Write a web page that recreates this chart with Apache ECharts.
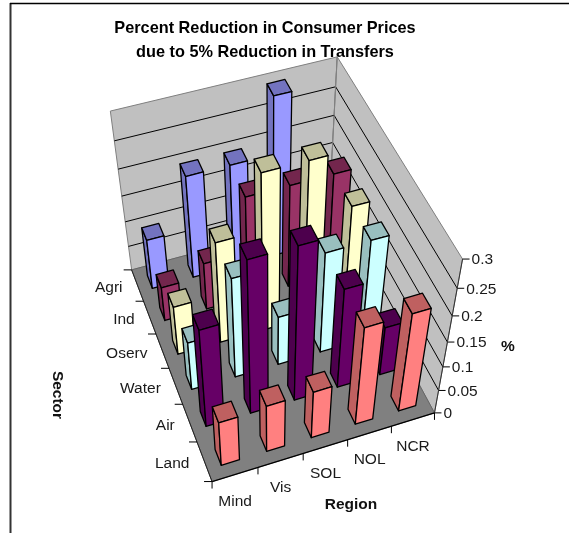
<!DOCTYPE html>
<html>
<head>
<meta charset="utf-8">
<style>html,body{margin:0;padding:0;background:#fff}#c{width:569px;height:533px}</style>
<script src="https://cdn.jsdelivr.net/npm/echarts@6/dist/echarts.min.js"></script>
</head>
<body>
<div id="c"></div>
<script>
// Percent reduction in consumer prices, by region and sector
const regions = ['Mind', 'Vis', 'SOL', 'NOL', 'NCR'];
const sectors = ['Agri', 'Ind', 'Oserv', 'Water', 'Air', 'Land'];
const zTicks = [0, 0.05, 0.1, 0.15, 0.2, 0.25, 0.3];

const agri  = [0.1, 0.2, 0.2, 0.3, 0.1];
const ind   = [0.07, 0.095, 0.2, 0.2, 0.2];
const oserv = [0.1, 0.2, 0.3, 0.3, 0.2];
const water = [0.1, 0.2, 0.1, 0.2, 0.2];
const air   = [0.2, 0.3, 0.3, 0.2, 0.1];
const land  = [0.095, 0.1, 0.1, 0.2, 0.2];
const sectorValues = [agri, ind, oserv, water, air, land];

const frontColors = ['#9999FF', '#993366', '#FFFFCC', '#CCFFFF', '#660066', '#FF8080'];
const shadeColors = ['#7373BF', '#73264D', '#BFBF99', '#99BFBF', '#4D004D', '#BF6060'];

// Screen anchors of the plot box, keyed by unit-cube corner (region, sector depth, height)
const boxAnchors = [
  [0, 0, 0, 212, 481.5], [1, 0, 0, 435, 413], [0, 1, 0, 132, 270], [1, 1, 0, 328, 217],
  [0, 1, 1, 110, 111], [1, 1, 1, 338, 57], [1, 0, 1, 462, 259]
];

// Fit an 11-parameter perspective camera to the anchors by least squares
function fitCamera(anchors) {
  const n = 11, A = [], b = [];
  anchors.forEach(([x, y, z, sx, sy]) => {
    A.push([x, y, z, 1, 0, 0, 0, 0, -sx * x, -sx * y, -sx * z]); b.push(sx);
    A.push([0, 0, 0, 0, x, y, z, 1, -sy * x, -sy * y, -sy * z]); b.push(sy);
  });
  const M = [];
  for (let i = 0; i < n; i++) {
    M.push(new Array(n + 1).fill(0));
    for (let j = 0; j < n; j++) A.forEach(r => { M[i][j] += r[i] * r[j]; });
    A.forEach((r, k) => { M[i][n] += r[i] * b[k]; });
  }
  for (let i = 0; i < n; i++) {
    let p = i;
    for (let r = i + 1; r < n; r++) if (Math.abs(M[r][i]) > Math.abs(M[p][i])) p = r;
    [M[i], M[p]] = [M[p], M[i]];
    for (let r = 0; r < n; r++) {
      if (r === i) continue;
      const f = M[r][i] / M[i][i];
      for (let c = i; c <= n; c++) M[r][c] -= f * M[i][c];
    }
  }
  return M.map((row, i) => row[n] / row[i]);
}
const cam = fitCamera(boxAnchors);
function project(x, y, z) {
  const d = cam[8] * x + cam[9] * y + cam[10] * z + 1;
  return [(cam[0] * x + cam[1] * y + cam[2] * z + cam[3]) / d,
          (cam[4] * x + cam[5] * y + cam[6] * z + cam[7]) / d];
}

const BAR_FILL = 0.4;   // share of a cell taken by a bar footprint

function sectorDepth(s) { return 1 - (s + 0.5) / sectors.length; }

function poly(points, fill, stroke, lineWidth) {
  return { type: 'polygon', shape: { points }, style: { fill, stroke: stroke || '#000', lineWidth: lineWidth === undefined ? 1.3 : lineWidth, lineJoin: 'round' } };
}
function seg(a, b, stroke, lineWidth) {
  return { type: 'line', shape: { x1: a[0], y1: a[1], x2: b[0], y2: b[1] }, style: { stroke, lineWidth: lineWidth || 1, fill: null } };
}
function label(text, x, y, align, font) {
  return { type: 'text', style: { text, x, y, align, verticalAlign: 'middle', fill: '#1a1a1a', font: font || '15.5px "Liberation Sans", Arial, sans-serif' } };
}

// One prism: height and horizontal position come from the hidden cartesian axes
function renderBar(s) {
  return function (params, api) {
    const cs = params.coordSys;
    const pt = api.coord([api.value(0), api.value(1)]);
    const u = (pt[0] - cs.x) / cs.width;
    const w = 1 - (pt[1] - cs.y) / cs.height;
    const du = api.size([1, 0])[0] / cs.width * BAR_FILL / 2;
    const v = sectorDepth(s), dv = BAR_FILL / sectors.length / 2;
    const c = (a, b, h) => project(u + a * du, v + b * dv, h);
    return {
      type: 'group',
      children: [
        poly([c(-1, -1, 0), c(-1, 1, 0), c(-1, 1, w), c(-1, -1, w)], shadeColors[s]),
        poly([c(-1, -1, w), c(-1, 1, w), c(1, 1, w), c(1, -1, w)], shadeColors[s]),
        poly([c(-1, -1, 0), c(1, -1, 0), c(1, -1, w), c(-1, -1, w)], frontColors[s])
      ]
    };
  };
}

// Walls, floor, gridlines, ticks and tick labels of the 3D box
function renderBox() {
  const kids = [];
  const edge = '#808080';
  kids.push(poly([project(0, 1, 0), project(1, 1, 0), project(1, 1, 1), project(0, 1, 1)], '#C0C0C0', edge, 1));
  kids.push(poly([project(1, 1, 0), project(1, 0, 0), project(1, 0, 1), project(1, 1, 1)], '#C0C0C0', edge, 1));
  kids.push(poly([project(0, 0, 0), project(1, 0, 0), project(1, 1, 0), project(0, 1, 0)], '#808080', '#666', 1));
  const zMax = zTicks[zTicks.length - 1];
  zTicks.forEach(t => {
    const h = t / zMax;
    if (t > 0 && t < zMax) {
      kids.push(seg(project(0, 1, h), project(1, 1, h), '#000'));
      kids.push(seg(project(1, 1, h), project(1, 0, h), '#000'));
    }
    const p = project(1, 0, h);
    kids.push(seg(p, [p[0] + 7, p[1]], '#000'));
    kids.push(label(String(t), p[0] + 9, p[1] + 1, 'left'));
  });
  kids.push(seg(project(1, 1, 1), project(1, 1, 0), edge));
  kids.push(seg(project(1, 0, 0), project(1, 0, 1), '#333'));
  kids.push(seg(project(0, 0, 0), project(1, 0, 0), '#000', 1.2));
  kids.push(seg(project(0, 0, 0), project(0, 1, 0), '#222', 1));
  for (let i = 0; i <= regions.length; i++) {
    const p = project(i / regions.length, 0, 0);
    kids.push(seg(p, [p[0], p[1] + 7], '#000'));
    if (i < regions.length) {
      const c = project((i + 0.5) / regions.length, 0, 0);
      kids.push(label(regions[i], c[0], c[1] + 27, 'center'));
    }
  }
  for (let i = 0; i <= sectors.length; i++) {
    const p = project(0, i / sectors.length, 0);
    kids.push(seg(p, [p[0] - 8, p[1]], '#000'));
  }
  sectors.forEach((name, s) => {
    const c = project(0, sectorDepth(s), 0);
    kids.push(label(name, c[0] - 15, c[1] + 2.5, 'right'));
  });
  return { type: 'group', children: kids };
}

const bold = 'bold 15.5px "Liberation Sans", Arial, sans-serif';

const chart = echarts.init(document.getElementById('c'), null, { renderer: 'canvas' });
chart.setOption({
  animation: false,
  backgroundColor: '#fff',
  title: {
    text: 'Percent Reduction in Consumer Prices\ndue to 5% Reduction in Transfers',
    left: 260, top: 12, textAlign: 'center',
    textStyle: { fontFamily: '"Liberation Sans", Arial, sans-serif', fontWeight: 'bold', fontSize: 16.3, lineHeight: 24, color: '#000' }
  },
  grid: { left: 0, right: 0, top: 0, bottom: 0 },
  xAxis: { type: 'category', data: regions, show: false },
  yAxis: { type: 'value', min: 0, max: 0.3, interval: 0.05, show: false },
  graphic: [
    { type: 'line', shape: { x1: 10.5, y1: 3, x2: 10.5, y2: 533 }, style: { stroke: '#333', lineWidth: 2 } },
    { type: 'line', shape: { x1: 10, y1: 3.5, x2: 569, y2: 3.5 }, style: { stroke: '#000', lineWidth: 1.5 } },
    { type: 'text', x: 351, y: 505, style: { text: 'Region', font: bold, fill: '#111', align: 'center', verticalAlign: 'middle' } },
    { type: 'text', x: 508, y: 347, style: { text: '%', font: bold, fill: '#111', align: 'center', verticalAlign: 'middle' } },
    { type: 'text', x: 57, y: 395, rotation: -Math.PI / 2, style: { text: 'Sector', font: bold, fill: '#111', align: 'center', verticalAlign: 'middle' } }
  ],
  series: [
    { type: 'custom', name: 'box', silent: true, z: 1, renderItem: renderBox, data: [[0, 0]] }
  ].concat(sectors.map((name, s) => ({
    type: 'custom',
    name,
    z: 2 + s,
    silent: true,
    renderItem: renderBar(s),
    // far regions first so nearer prisms paint over them
    data: regions.map((r, i) => [i, sectorValues[s][i]]).reverse()
  })))
});
</script>
</body>
</html>
